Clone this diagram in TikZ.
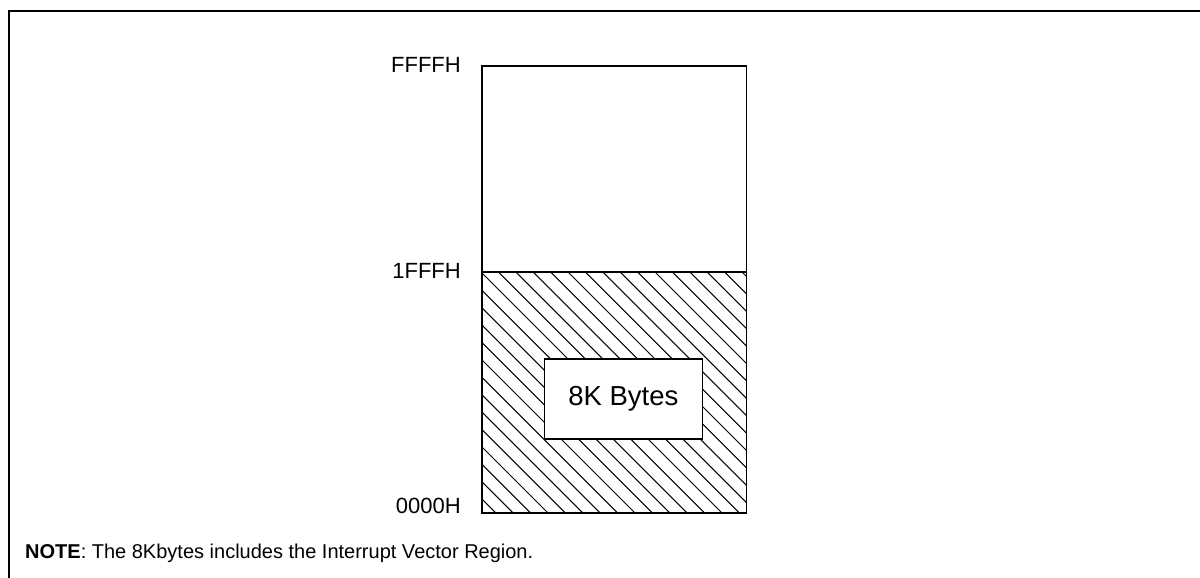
\documentclass[tikz,border=0pt]{standalone}
\usepackage{fontspec}
\setmainfont{Liberation Sans}
\begin{document}
\begin{tikzpicture}[x=1pt,y=-1pt,
  frame/.style={line width=2pt},
  membox/.style={draw, line width=1.3pt},
  hatchline/.style={line width=1pt},
  addr/.style={anchor=east, inner sep=0pt, font=\fontsize{22}{26}\selectfont},
  sizebox/.style={draw, line width=1.3pt, fill=white, minimum width=158pt, minimum height=80pt, inner sep=0pt, font=\fontsize{27.5}{32}\selectfont},
  notetext/.style={anchor=base west, inner sep=0pt, font=\fontsize{20}{24}\selectfont}]
\useasboundingbox (0,0) rectangle (1200,578);
% outer frame (top and left edges)
\draw[frame] (8.5,578) -- (8.5,11) -- (1200,11);
% memory map coordinates
\coordinate (tl) at (482,66);
\coordinate (ml) at (482,272);
\coordinate (mr) at (746.5,272);
\coordinate (br) at (746.5,513);
% hatch of the lower region
\begin{scope}
  \clip (ml) rectangle (br);
  \foreach \k in {-15,...,17} {
    \draw[hatchline] ({209+17.4*\k+260},260) -- ({209+17.4*\k+520},520);
  }
\end{scope}
\draw[membox] (tl) rectangle (br);
\draw[membox] (ml) -- (mr);
% inner box
\node[sizebox] (kb) at (623.3,399) {8K Bytes};
% address labels
\node[addr] (a1) at (461,65) {FFFFH};
\node[addr] (a2) at (461,270.5) {1FFFH};
\node[addr, anchor=base east] (a3) at (461,513) {0000H};
% note
\node[notetext] (note) at (25,558) {\textbf{NOTE}: The 8Kbytes includes the Interrupt Vector Region.};
\end{tikzpicture}
\end{document}
